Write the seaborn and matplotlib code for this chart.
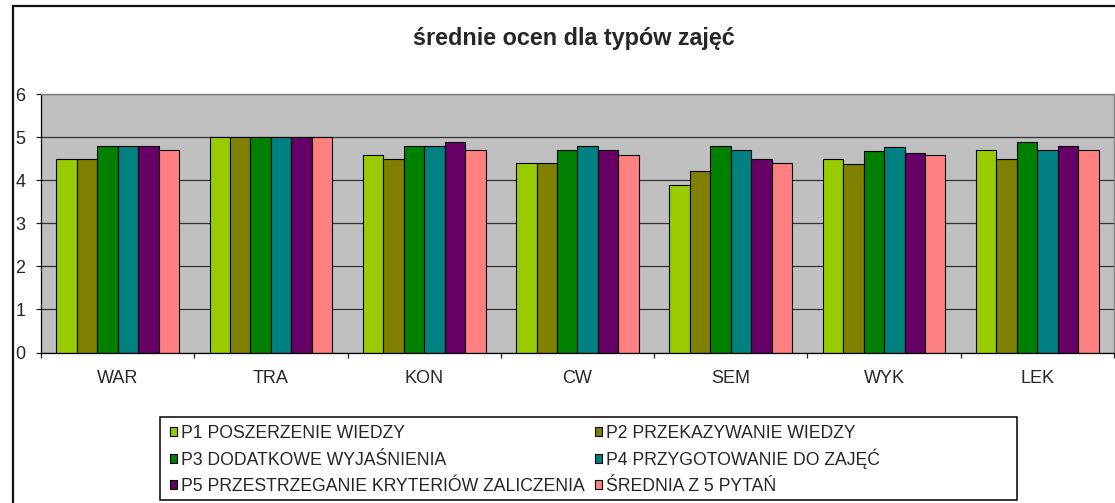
import numpy as np
import pandas as pd
import seaborn as sns
import matplotlib.pyplot as plt
from matplotlib.patches import Rectangle
from matplotlib.transforms import Bbox

categories = ['WAR', 'TRA', 'KON', 'CW', 'SEM', 'WYK', 'LEK']
series = [
    'P1 POSZERZENIE WIEDZY',
    'P2 PRZEKAZYWANIE WIEDZY',
    'P3 DODATKOWE WYJAŚNIENIA',
    'P4 PRZYGOTOWANIE DO ZAJĘĆ',
    'P5 PRZESTRZEGANIE KRYTERIÓW ZALICZENIA',
    'ŚREDNIA Z 5 PYTAŃ',
]
p1 = [4.5, 5.0, 4.6, 4.4, 3.9, 4.5, 4.7]
p2 = [4.5, 5.0, 4.5, 4.4, 4.22, 4.37, 4.5]
p3 = [4.8, 5.0, 4.8, 4.71, 4.8, 4.68, 4.9]
p4 = [4.8, 5.0, 4.8, 4.79, 4.71, 4.77, 4.71]
p5 = [4.8, 5.0, 4.9, 4.71, 4.5, 4.63, 4.79]
avg = [4.71, 5.0, 4.7, 4.6, 4.4, 4.58, 4.71]
colors = ['#99CC00', '#808000', '#008000', '#008080', '#660066', '#FF8080']

rows = []
for name, vals in zip(series, [p1, p2, p3, p4, p5, avg]):
    for cat, v in zip(categories, vals):
        rows.append({'typ': cat, 'seria': name, 'ocena': v})
df = pd.DataFrame(rows)

sns.set_style('white')
plt.rcParams['font.family'] = ['Liberation Sans', 'DejaVu Sans']

W, H = 1115, 503
fig = plt.figure(figsize=(W / 100, H / 100), dpi=100)

# outer chart frame (cut off on the right and bottom like the original)
fig.patches.append(Rectangle((13 / W, -0.05), 1.2, 1 - 6 / H + 0.05, transform=fig.transFigure,
                             fill=False, edgecolor='#111111', linewidth=1.6))

ax = fig.add_axes([41 / W, 1 - 352.5 / H, (1114 - 41) / W, (352.5 - 94.3) / H])
ax.set_facecolor('#C0C0C0')

sns.barplot(data=df, x='typ', y='ocena', hue='seria', hue_order=series,
            order=categories, palette=colors, width=0.8, saturation=1,
            edgecolor='black', linewidth=0.8, ax=ax, legend=True)

ax.set_ylim(0, 6)
ax.set_xlim(-0.5, len(categories) - 0.5)
ax.set_yticks(range(0, 7))
ax.grid(axis='y', color='#333333', linewidth=0.9)
ax.set_axisbelow(True)
ax.set_xlabel('')
ax.set_ylabel('')

# category ticks between groups, labels centered
ax.set_xticks(np.arange(-0.5, len(categories), 1.0), minor=True)
ax.tick_params(axis='x', which='major', length=0, labelsize=13, pad=12.5)
ax.tick_params(axis='x', which='minor', length=3.6, width=0.9, direction='out', bottom=True)
ax.tick_params(axis='y', length=3.6, width=0.9, direction='out', left=True, labelsize=13, pad=7.5)

for side in ['left', 'bottom']:
    ax.spines[side].set_color('black')
    ax.spines[side].set_linewidth(0.9)
for side in ['top', 'right']:
    ax.spines[side].set_color('#808080')
    ax.spines[side].set_linewidth(1)

fig.text(573.5 / W, 1 - 38 / H, 'średnie ocen dla typów zajęć', ha='center', va='center',
         fontsize=16.8, fontweight='bold')

# legend filled row by row, like the original
leg_fs = 12.7
handles, labels = ax.get_legend_handles_labels()
ax.get_legend().remove()
order = [0, 2, 4, 1, 3, 5]
leg = fig.legend([handles[i] for i in order], [labels[i] for i in order], ncol=2,
                 loc='upper left', bbox_to_anchor=(170 / W, 1 - 421.5 / H), frameon=False,
                 fontsize=leg_fs, handlelength=0.4, handleheight=0.4,
                 handletextpad=0.2, columnspacing=0.6, labelspacing=0.3,
                 borderpad=0, borderaxespad=0)
for h in leg.legend_handles:
    h.set_edgecolor('black')
    h.set_linewidth(0.8)

# give every legend label the same row height, so accented capitals
# (Ś, Ę, Ć) do not push the two columns out of line
fs_px = leg_fs * fig.dpi / 72


def even_row(area):
    orig = area.get_bbox

    def get_bbox(renderer):
        bb = orig(renderer)
        return Bbox.from_bounds(bb.x0, -0.26 * fs_px, bb.width, 1.2 * fs_px)
    area.get_bbox = get_bbox


for column in leg._legend_handle_box.get_children():
    for item in column.get_children():
        even_row(item.get_children()[1])

fig.patches.append(Rectangle((160 / W, 1 - 500 / H), (1017 - 160) / W, (500 - 417) / H,
                             transform=fig.transFigure, fill=False,
                             edgecolor='black', linewidth=1.1))

fig.savefig('out.png', dpi=100)
